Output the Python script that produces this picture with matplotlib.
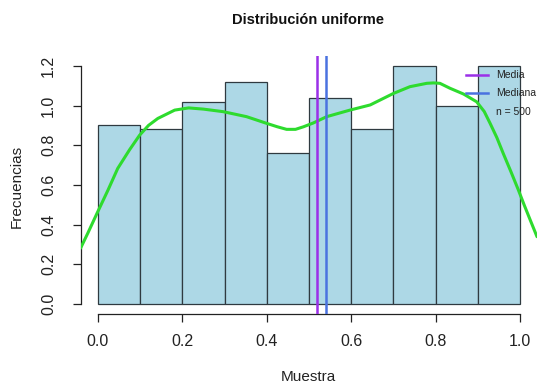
import numpy as np
import matplotlib
matplotlib.use('Agg')
import matplotlib.pyplot as plt

plt.rcParams['font.family'] = ['Liberation Sans', 'DejaVu Sans']

# histogram of the uniform sample (density scale)
bin_edges = [0.0, 0.1, 0.2, 0.3, 0.4, 0.5, 0.6, 0.7, 0.8, 0.9, 1.0]
densities = [0.90, 0.88, 1.02, 1.12, 0.76, 1.04, 0.88, 1.20, 1.00, 1.20]

# kernel density estimate, sampled along x
kde_x = [-0.041, -0.024, -0.002, 0.024, 0.047, 0.075, 0.099, 0.120, 0.142,
         0.182, 0.215, 0.250, 0.297, 0.352, 0.400, 0.425, 0.447, 0.468,
         0.487, 0.510, 0.542, 0.597, 0.645, 0.700, 0.739, 0.779, 0.795,
         0.810, 0.834, 0.866, 0.897, 0.915, 0.929, 0.945, 0.960, 0.978,
         0.996, 1.010, 1.024, 1.040]
kde_y = [0.281, 0.356, 0.457, 0.574, 0.683, 0.777, 0.851, 0.900, 0.935,
         0.977, 0.988, 0.982, 0.969, 0.944, 0.910, 0.893, 0.880, 0.880,
         0.893, 0.912, 0.944, 0.977, 1.003, 1.061, 1.095, 1.112, 1.114,
         1.112, 1.087, 1.058, 1.019, 0.970, 0.910, 0.838, 0.759, 0.668,
         0.574, 0.497, 0.423, 0.339]

sample_mean = 0.52
sample_median = 0.54
n_obs = 500

mean_color = '#9B30E8'
median_color = '#4A72E0'

fig = plt.figure(figsize=(5.37, 3.85), dpi=100)
ax = fig.add_axes([0.1508, 0.1857, 0.8492, 0.668])

widths = np.diff(bin_edges)
ax.bar(bin_edges[:-1], densities, width=widths, align='edge',
       color='#ADD8E6', edgecolor='#2f3a40', linewidth=0.9, zorder=2)

ax.plot(kde_x, kde_y, color='#2EDB2E', linewidth=2.2, zorder=3,
        solid_capstyle='round', solid_joinstyle='round')

ax.axvline(sample_mean, color=mean_color, linewidth=1.8, zorder=4)
ax.axvline(sample_median, color=median_color, linewidth=1.8, zorder=4)

ax.set_xlim(-0.04, 1.04)
ax.set_ylim(-0.048, 1.248)

# R-style axes: only left and bottom, bounded to the tick range
for side in ['top', 'right']:
    ax.spines[side].set_visible(False)
ax.spines['left'].set_bounds(0, 1.2)
ax.spines['bottom'].set_bounds(0, 1.0)
for side in ['left', 'bottom']:
    ax.spines[side].set_linewidth(0.9)
    ax.spines[side].set_color('#222222')

ax.set_xticks([0.0, 0.2, 0.4, 0.6, 0.8, 1.0])
ax.set_xticklabels(['0.0', '0.2', '0.4', '0.6', '0.8', '1.0'])
ax.set_yticks([0.0, 0.2, 0.4, 0.6, 0.8, 1.0, 1.2])
ax.set_yticklabels(['0.0', '0.2', '0.4', '0.6', '0.8', '1.0', '1.2'],
                   rotation=90, va='center')
ax.tick_params(axis='both', length=6, width=0.9, color='#222222',
               labelsize=11.5, labelcolor='#222222')
ax.tick_params(axis='x', pad=9)
ax.tick_params(axis='y', pad=12)

fig.text(308 / 537, 1 - 377 / 385, 'Muestra', fontsize=11,
         ha='center', va='center', color='#222222')
fig.text(17 / 537, 1 - 186 / 385, 'Frecuencias', fontsize=11, rotation=90,
         ha='center', va='center', color='#222222')
fig.text(308.5 / 537, 1 - 20.5 / 385, 'Distribución uniforme', fontsize=10.5,
         fontweight='bold', ha='center', va='center', color='#111111')

# legend drawn in axes coordinates, no frame
rows = [(0.927, mean_color, 'Media'),
        (0.856, median_color, 'Mediana'),
        (0.785, None, f'n = {n_obs}')]
for yy, col, label in rows:
    if col is not None:
        ax.plot([0.844, 0.892], [yy, yy], color=col, linewidth=1.8,
                transform=ax.transAxes, clip_on=False, zorder=5)
    ax.text(0.910, yy, label, fontsize=7.5, ha='left', va='center',
            color='#222222', transform=ax.transAxes, zorder=5)

fig.savefig('out.png', dpi=100)
